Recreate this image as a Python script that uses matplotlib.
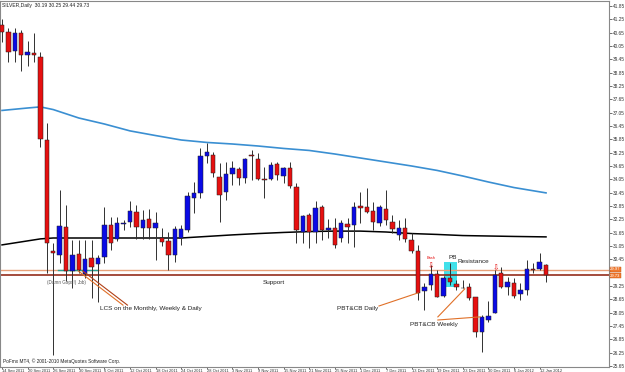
import numpy as np
import matplotlib
matplotlib.use("Agg")
import matplotlib.pyplot as plt
from matplotlib.patches import Rectangle

# SILVER daily, 14 Sep 2011 .. 13 Jan 2012 (one bar per trading day)
opens = [41.00, 40.68, 39.83, 40.64, 39.65, 39.74, 39.56, 35.82, 30.83, 30.65,
         31.91, 29.93, 30.69, 29.79, 30.51, 30.24, 30.56, 32.00, 31.37, 32.06,
         32.13, 32.58, 31.86, 32.27, 31.86, 31.41, 31.28, 30.65, 31.41, 31.77,
         33.21, 33.44, 35.10, 35.15, 34.16, 33.48, 34.29, 34.52, 34.11, 35.15,
         34.97, 34.07, 34.07, 34.74, 34.20, 34.56, 33.71, 31.68, 32.45, 31.68,
         32.81, 31.77, 31.86, 31.41, 32.04, 32.00, 32.85, 32.81, 32.63, 32.09,
         32.72, 32.13, 31.55, 31.86, 31.32, 30.83, 29.03, 29.30, 29.79, 28.80,
         29.61, 29.34, 29.16, 29.21, 28.76, 27.18, 27.72, 28.04, 29.84, 29.21,
         29.39, 28.89, 29.07, 30.02, 30.02, 30.19]
highs = [41.27, 40.86, 40.86, 40.77, 40.28, 40.64, 39.78, 36.59, 31.19, 33.57,
         32.90, 31.32, 31.32, 31.32, 31.32, 30.65, 32.81, 32.36, 32.36, 32.22,
         33.08, 32.90, 32.67, 32.72, 32.58, 31.86, 31.68, 31.95, 32.00, 33.48,
         33.93, 35.46, 35.69, 35.28, 34.79, 34.83, 34.88, 34.61, 35.01, 35.37,
         35.24, 34.61, 34.83, 34.83, 34.61, 34.83, 33.89, 32.45, 32.54, 33.08,
         32.90, 32.27, 32.31, 32.22, 32.31, 33.03, 33.48, 33.66, 33.03, 32.90,
         33.57, 32.45, 32.22, 32.31, 31.64, 31.10, 29.39, 30.20, 29.97, 29.70,
         30.29, 29.52, 29.52, 29.39, 28.76, 27.95, 28.58, 29.97, 30.11, 29.66,
         29.61, 29.39, 30.42, 30.29, 30.74, 30.25]
lows = [40.23, 39.33, 39.33, 38.93, 39.15, 39.33, 35.51, 29.84, 26.15, 30.29,
        29.48, 29.16, 29.84, 29.61, 28.71, 28.53, 30.29, 30.87, 31.28, 31.77,
        31.91, 31.37, 31.37, 31.37, 30.42, 31.05, 29.97, 30.33, 31.10, 31.68,
        32.54, 33.21, 34.79, 34.16, 32.13, 33.12, 33.80, 33.80, 33.89, 34.02,
        34.02, 33.21, 34.02, 34.02, 33.89, 33.66, 31.19, 31.19, 30.96, 31.19,
        31.32, 31.41, 30.96, 31.23, 31.19, 31.01, 32.09, 32.54, 31.77, 31.95,
        32.00, 31.64, 31.32, 31.23, 30.74, 28.62, 28.17, 29.07, 28.76, 28.76,
        29.30, 29.07, 29.14, 28.62, 26.96, 26.28, 27.63, 28.04, 29.16, 28.85,
        28.71, 28.62, 28.85, 29.84, 29.97, 29.44]
closes = [40.68, 39.78, 40.64, 39.65, 39.78, 39.65, 35.87, 31.19, 30.74, 31.95,
          29.93, 30.65, 29.97, 30.47, 30.11, 30.51, 32.00, 31.19, 32.09, 32.09,
          32.63, 31.91, 32.22, 31.86, 32.09, 31.23, 30.65, 31.82, 31.82, 33.30,
          33.44, 35.10, 35.28, 34.34, 33.35, 34.29, 34.56, 34.11, 34.97, 35.12,
          34.07, 34.04, 34.70, 34.25, 34.56, 33.75, 31.77, 32.40, 31.68, 32.76,
          31.77, 31.86, 31.10, 32.09, 31.91, 32.81, 32.76, 32.58, 32.13, 32.81,
          32.22, 31.82, 31.86, 31.37, 30.83, 28.94, 29.21, 29.79, 28.76, 29.61,
          29.43, 29.21, 29.14, 28.71, 27.18, 27.86, 27.90, 29.75, 29.21, 29.43,
          28.80, 29.07, 30.02, 29.99, 30.33, 29.73]

# moving averages, read at selected bars
ma_slow_idx = [0, 4, 6, 8, 12, 16, 20, 24, 28, 32, 36, 40, 44, 48, 52, 56, 60, 64, 68, 72, 76, 80, 85]
ma_slow = [37.15, 37.26, 37.31, 37.19, 36.81, 36.54, 36.23, 36.02, 35.82, 35.71, 35.64, 35.55,
           35.44, 35.35, 35.19, 35.01, 34.83, 34.65, 34.45, 34.20, 33.93, 33.68, 33.44]
ma_fast_idx = [0, 4, 6, 8, 12, 16, 20, 24, 28, 32, 36, 40, 44, 48, 52, 56, 60, 64, 68, 72, 76, 80, 85]
ma_fast = [31.10, 31.28, 31.37, 31.41, 31.41, 31.41, 31.41, 31.41, 31.41, 31.48, 31.55, 31.61,
           31.66, 31.70, 31.72, 31.72, 31.68, 31.61, 31.57, 31.52, 31.50, 31.48, 31.46]

date_idx = list(range(0, 85, 4))
date_labels = ["14 Sep 2011", "20 Sep 2011", "26 Sep 2011", "30 Sep 2011", "6 Oct 2011",
               "12 Oct 2011", "18 Oct 2011", "24 Oct 2011", "28 Oct 2011", "3 Nov 2011",
               "9 Nov 2011", "15 Nov 2011", "21 Nov 2011", "25 Nov 2011", "1 Dec 2011",
               "7 Dec 2011", "13 Dec 2011", "19 Dec 2011", "23 Dec 2011", "30 Dec 2011",
               "6 Jan 2012", "12 Jan 2012"]
price_ticks = [round(25.65 + 0.6 * k, 2) for k in range(28)]

resistance = 29.97
bid = 29.73

small = ["Liberation Sans", "DejaVu Sans"]

fig = plt.figure(figsize=(6.25, 3.72), dpi=100)
ax = fig.add_axes([0.0, 5 / 372, 609 / 625, 366 / 372])
ax.set_xlim(-0.3125, 94.84)
ax.set_ylim(25.605, 42.075)

bull = "#0a0ae6"
bear = "#e61010"
w = 0.68
for i in range(len(opens)):
    o, h, l, c = opens[i], highs[i], lows[i], closes[i]
    ax.vlines(i, l, h, color="#303030", lw=0.7, zorder=3)
    lo = min(o, c)
    hgt = max(abs(c - o), 0.04)
    col = bull if c > o else bear
    ax.add_patch(Rectangle((i - w / 2, lo), w, hgt, facecolor=col,
                           edgecolor="#202020", lw=0.35, zorder=4))

ax.plot(ma_slow_idx, ma_slow, color="#3a8fd2", lw=1.2, zorder=2)
ax.plot(ma_fast_idx, ma_fast, color="black", lw=1.1, zorder=2)

ax.axhline(resistance, color="#e8a078", lw=1.0, zorder=2)
ax.axhline(bid, color="#8a1a08", lw=1.1, zorder=2)
ax.plot([8.8, 14.8], [29.95, 29.95], color="#2aa090", lw=1.0, zorder=2)

# cyan pin-bar box
ax.add_patch(Rectangle((69.1, 29.21), 2.0, 1.12, facecolor="#40e0ea",
                       edgecolor="none", zorder=1))

fs = 4.6
ax.text(69.7, 30.40, "PB", fontsize=fs, family=small, color="#222222", va="bottom", zorder=6)
ax.text(71.2, 30.22, "Resistance", fontsize=fs, family=small, color="#222222", va="bottom", zorder=6)
ax.text(40.8, 29.30, "Support", fontsize=fs, family=small, color="#222222", va="bottom", zorder=6)
ax.text(66.4, 30.42, "Bash", fontsize=2.8, family=small, color="#e61010", va="bottom", zorder=6)
ax.text(67.0, 29.95, "\u21e9", fontsize=5.5, color="#e61010", ha="center", va="bottom", zorder=6)
ax.text(77.1, 29.85, "\u21e9", fontsize=5.5, color="#e61010", ha="center", va="bottom", zorder=6)

ax.text(7.0, 29.40, "(Damn Gaps!)", fontsize=3.3, family=small, color="#555555", va="center", zorder=6)
ax.text(11.9, 29.40, "Job)", fontsize=3.3, family=small, color="#555555", va="center", zorder=6)
ax.plot([11.9, 18.9], [29.93, 28.39], color="#e07028", lw=0.8, zorder=5)
ax.plot([12.6, 19.6], [29.93, 28.39], color="#b04018", lw=0.8, zorder=5)
ax.text(15.3, 28.22, "LCS on the Monthly, Weekly & Daily", fontsize=fs, family=small,
        color="#222222", va="center", zorder=6)

ax.text(52.3, 28.22, "PBT&CB Daily", fontsize=fs, family=small, color="#222222", va="center", zorder=6)
ax.plot([58.9, 65.0], [28.35, 28.94], color="#e07028", lw=0.8, zorder=5)
ax.text(63.8, 27.50, "PBT&CB Weekly", fontsize=fs, family=small, color="#222222", va="center", zorder=6)
ax.plot([68.1, 72.3], [27.86, 29.12], color="#e07028", lw=0.8, zorder=5)
ax.plot([68.1, 74.7], [27.72, 27.86], color="#e07028", lw=0.8, zorder=5)

ax.text(0.0, 41.85, "SILVER,Daily  30.19 30.25 29.44 29.73", fontsize=3.6, family=small,
        color="#222222", va="center", zorder=6)
ax.text(0.1, 25.88, "PoFmx MT4, \u00a9 2001-2010 MetaQuotes Software Corp.", fontsize=3.4,
        family=small, color="#222222", va="center", zorder=6)

# right price scale (29.85 sits under the line labels)
shown = [p for p in price_ticks if abs(p - 29.85) > 0.01]
ax.yaxis.tick_right()
ax.set_yticks(shown)
ax.set_yticklabels(["%.2f" % p for p in shown], family=small)
ax.tick_params(axis="y", labelsize=3.4, length=1.8, width=0.5, pad=0.8, colors="#333333")
ax.set_xticks(date_idx)
ax.set_xticklabels(date_labels, ha="left", family=small)
ax.tick_params(axis="x", labelsize=2.9, length=1.5, width=0.5, pad=0.2, colors="#333333")

for lab, yy in [("29.97", 30.00), ("29.73", 29.71)]:
    ax.text(95.0, yy, lab, fontsize=3.0, family=small, color="white", va="center", ha="left",
            clip_on=False, zorder=8,
            bbox=dict(boxstyle="square,pad=0.1", facecolor="#f07a30", edgecolor="#c05010", lw=0.3))

for s in ax.spines.values():
    s.set_color("#888888")
    s.set_linewidth(0.8)

fig.savefig("out.png", dpi=100, facecolor="white")
